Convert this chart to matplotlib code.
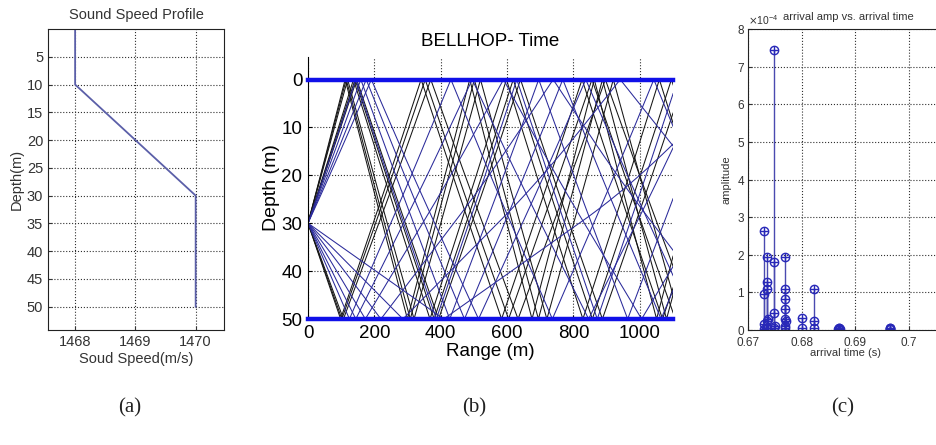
import numpy as np
import matplotlib
matplotlib.use("Agg")
import matplotlib.pyplot as plt
from matplotlib import font_manager

plt.rcParams['font.family'] = ['Liberation Sans', 'DejaVu Sans']
plt.rcParams['axes.unicode_minus'] = True

_names = {f.name for f in font_manager.fontManager.ttflist}
NARROW = 'Liberation Sans Narrow' if 'Liberation Sans Narrow' in _names else 'Liberation Sans'

# ---- sound speed profile ----
ssp_depth = [0, 10, 30, 50]          # m
ssp_speed = [1468, 1468, 1470, 1470]  # m/s

# ---- environment / source for the ray trace ----
source_depth = 30.0
surface_depth = 0.0
bottom_depth = 50.0
max_range = 1100.0

# launch angles in degrees (positive = downward)
black_launch = [-14.8, -14.4, -13.9, -12.1, -11.7, -11.3, 11.5, 11.1, 10.6]
blue_launch = [-11.5, -10.4, -9.4, -8.6, 9.1, 7.9, 6.6, 5.2, 4.0, 2.8]

# ---- arrivals: time (s) and amplitude ----
arrival_time = [
    0.67300, 0.67300, 0.67290, 0.67305,
    0.67360, 0.67360, 0.67360, 0.67365, 0.67355, 0.67360, 0.67340,
    0.67495, 0.67495, 0.67495, 0.67500, 0.67490,
    0.67700, 0.67700, 0.67700, 0.67700, 0.67700, 0.67705, 0.67695, 0.67700,
    0.68005, 0.68000,
    0.68230, 0.68230, 0.68235,
    0.68700, 0.68705, 0.68710, 0.68695, 0.68715, 0.68690,
    0.69650, 0.69655, 0.69645, 0.69652,
]
arrival_amp = [
    2.62e-4, 0.95e-4, 0.15e-4, 0.03e-4,
    1.93e-4, 1.28e-4, 1.09e-4, 0.29e-4, 0.24e-4, 0.04e-4, 0.05e-4,
    7.45e-4, 1.82e-4, 0.45e-4, 0.10e-4, 0.04e-4,
    1.93e-4, 1.10e-4, 0.83e-4, 0.56e-4, 0.29e-4, 0.24e-4, 0.11e-4, 0.04e-4,
    0.31e-4, 0.04e-4,
    1.08e-4, 0.24e-4, 0.06e-4,
    0.05e-4, 0.03e-4, 0.02e-4, 0.04e-4, 0.03e-4, 0.02e-4,
    0.05e-4, 0.03e-4, 0.02e-4, 0.04e-4,
]

panel_labels = ['(a)', '(b)', '(c)']


def trace_ray(launch_deg, ds=0.5):
    """March a ray through the depth-dependent profile with Snell's law,
    reflecting specularly at the surface and the bottom."""
    theta = np.radians(launch_deg)
    c_src = np.interp(source_depth, ssp_depth, ssp_speed)
    p = np.cos(theta) / c_src
    direction = 1.0 if theta > 0 else -1.0
    r, z = 0.0, source_depth
    rs, zs = [r], [z]
    while r < max_range:
        c = np.interp(z, ssp_depth, ssp_speed)
        cos_t = p * c
        if cos_t >= 1.0:
            direction = -direction
            cos_t = 1.0 - 1e-9
        sin_t = np.sqrt(1.0 - cos_t ** 2)
        r_new = r + ds * cos_t
        z_new = z + direction * ds * sin_t
        if z_new < surface_depth or z_new > bottom_depth:
            zb = surface_depth if z_new < surface_depth else bottom_depth
            frac = (zb - z) / (z_new - z)
            rs.append(r + frac * (r_new - r))
            zs.append(zb)
            z_new = 2 * zb - z_new
            direction = -direction
        r, z = r_new, z_new
        rs.append(r)
        zs.append(z)
    return np.array(rs), np.array(zs)


W, H = 936, 445
fig = plt.figure(figsize=(W / 100, H / 100), dpi=100)

grid_kw = dict(color='#303030', linestyle=':', linewidth=0.8)

# ---------------- (a) sound speed profile ----------------
ax_a = fig.add_axes([48 / W, 1 - 330 / H, 176 / W, 301 / H])
ax_a.plot(ssp_speed, ssp_depth, color='#5b5fa8', linewidth=1.3)
ax_a.set_xlim(1467.55, 1470.47)
ax_a.set_ylim(54.2, 0.0)
ax_a.set_xticks([1468, 1469, 1470])
ax_a.set_yticks(np.arange(5, 55, 5))
ax_a.grid(True, **grid_kw)
ax_a.tick_params(direction='in', length=3, labelsize=10.5, colors='#333333')
for s in ax_a.spines.values():
    s.set_color('#222222')
    s.set_linewidth(0.8)
ax_a.set_title('Sound Speed Profile', fontsize=10.5, color='#333333', pad=7)
ax_a.set_xlabel('Soud Speed(m/s)', fontsize=10.5, color='#333333', labelpad=2)
ax_a.set_ylabel('Depth(m)', fontsize=10.5, color='#333333', labelpad=2)

# ---------------- (b) BELLHOP ray trace ----------------
ax_b = fig.add_axes([308 / W, 1 - 319 / H, 365 / W, 262 / H])
for ang in black_launch:
    rr, zz = trace_ray(ang)
    ax_b.plot(rr, zz, color='#151515', linewidth=0.75)
for ang in blue_launch:
    rr, zz = trace_ray(ang)
    ax_b.plot(rr, zz, color='#2a2a9a', linewidth=0.75)
ax_b.plot([0, max_range], [surface_depth, surface_depth], color='#1010e8',
          linewidth=3.2, clip_on=False, zorder=5)
ax_b.plot([0, max_range], [bottom_depth, bottom_depth], color='#1010e8',
          linewidth=3.2, clip_on=False, zorder=5)
ax_b.set_xlim(0, max_range)
ax_b.set_ylim(bottom_depth, -4.7)
ax_b.set_xticks(np.arange(0, 1001, 200))
ax_b.set_yticks(np.arange(0, 51, 10))
ax_b.grid(True, **grid_kw)
ax_b.spines['top'].set_visible(False)
ax_b.spines['right'].set_visible(False)
ax_b.tick_params(direction='in', length=3, labelsize=13.5, pad=4)
ax_b.set_title('BELLHOP- Time', fontsize=13.5, pad=8)
ax_b.set_xlabel('Range (m)', fontsize=13.5, labelpad=1)
ax_b.set_ylabel('Depth (m)', fontsize=14, labelpad=1)

# ---------------- (c) arrivals ----------------
ax_c = fig.add_axes([748 / W, 1 - 330 / H, 214 / W, 301 / H])
ax_c.vlines(arrival_time, 0, arrival_amp, color='#4a4ab0', linewidth=1.0)
ax_c.plot(arrival_time, arrival_amp, linestyle='none', marker='o', markersize=6,
          markerfacecolor='none', markeredgecolor='#2828b8', markeredgewidth=1.0)
ax_c.plot(arrival_time, arrival_amp, linestyle='none', marker='+', markersize=6,
          markeredgecolor='#2828b8', markeredgewidth=1.0)
ax_c.set_xlim(0.67, 0.71)
ax_c.set_ylim(0, 8e-4)
ax_c.set_xticks([0.67, 0.68, 0.69, 0.70])
ax_c.set_xticklabels(['0.67', '0.68', '0.69', '0.7'])
ax_c.set_yticks(np.arange(0, 9) * 1e-4)
ax_c.ticklabel_format(axis='y', style='sci', scilimits=(0, 0), useMathText=True)
ax_c.yaxis.get_offset_text().set_fontsize(7.5)
ax_c.yaxis.get_offset_text().set_color('#333333')
ax_c.yaxis.get_offset_text().set_family(NARROW)
ax_c.grid(True, **grid_kw)
ax_c.tick_params(direction='in', length=3, labelsize=8.5, colors='#333333', pad=2)
ax_c.tick_params(axis='x', pad=5)
for lab in ax_c.get_xticklabels() + ax_c.get_yticklabels():
    lab.set_family(NARROW)
for s in ax_c.spines.values():
    s.set_color('#222222')
    s.set_linewidth(0.8)
ax_c.text((783 - 748) / 214, 1.022, 'arrival amp vs. arrival time', transform=ax_c.transAxes,
          ha='left', va='bottom', fontsize=8, color='#333333', family=NARROW)
ax_c.set_xlabel('arrival time (s)', fontsize=8, color='#333333', family=NARROW)
ax_c.xaxis.set_label_coords((845 - 748) / 214, -0.06)
ax_c.set_ylabel('amplitude', fontsize=8, color='#333333', family=NARROW, labelpad=4)

# ---------------- panel captions ----------------
for lab, x in zip(panel_labels, [130, 474, 843]):
    fig.text(x / W, 1 - 408 / H, lab, ha='center', va='center',
             fontsize=15, family=['Liberation Serif', 'DejaVu Serif'], color='#222222')

fig.savefig('out.png', dpi=100)
